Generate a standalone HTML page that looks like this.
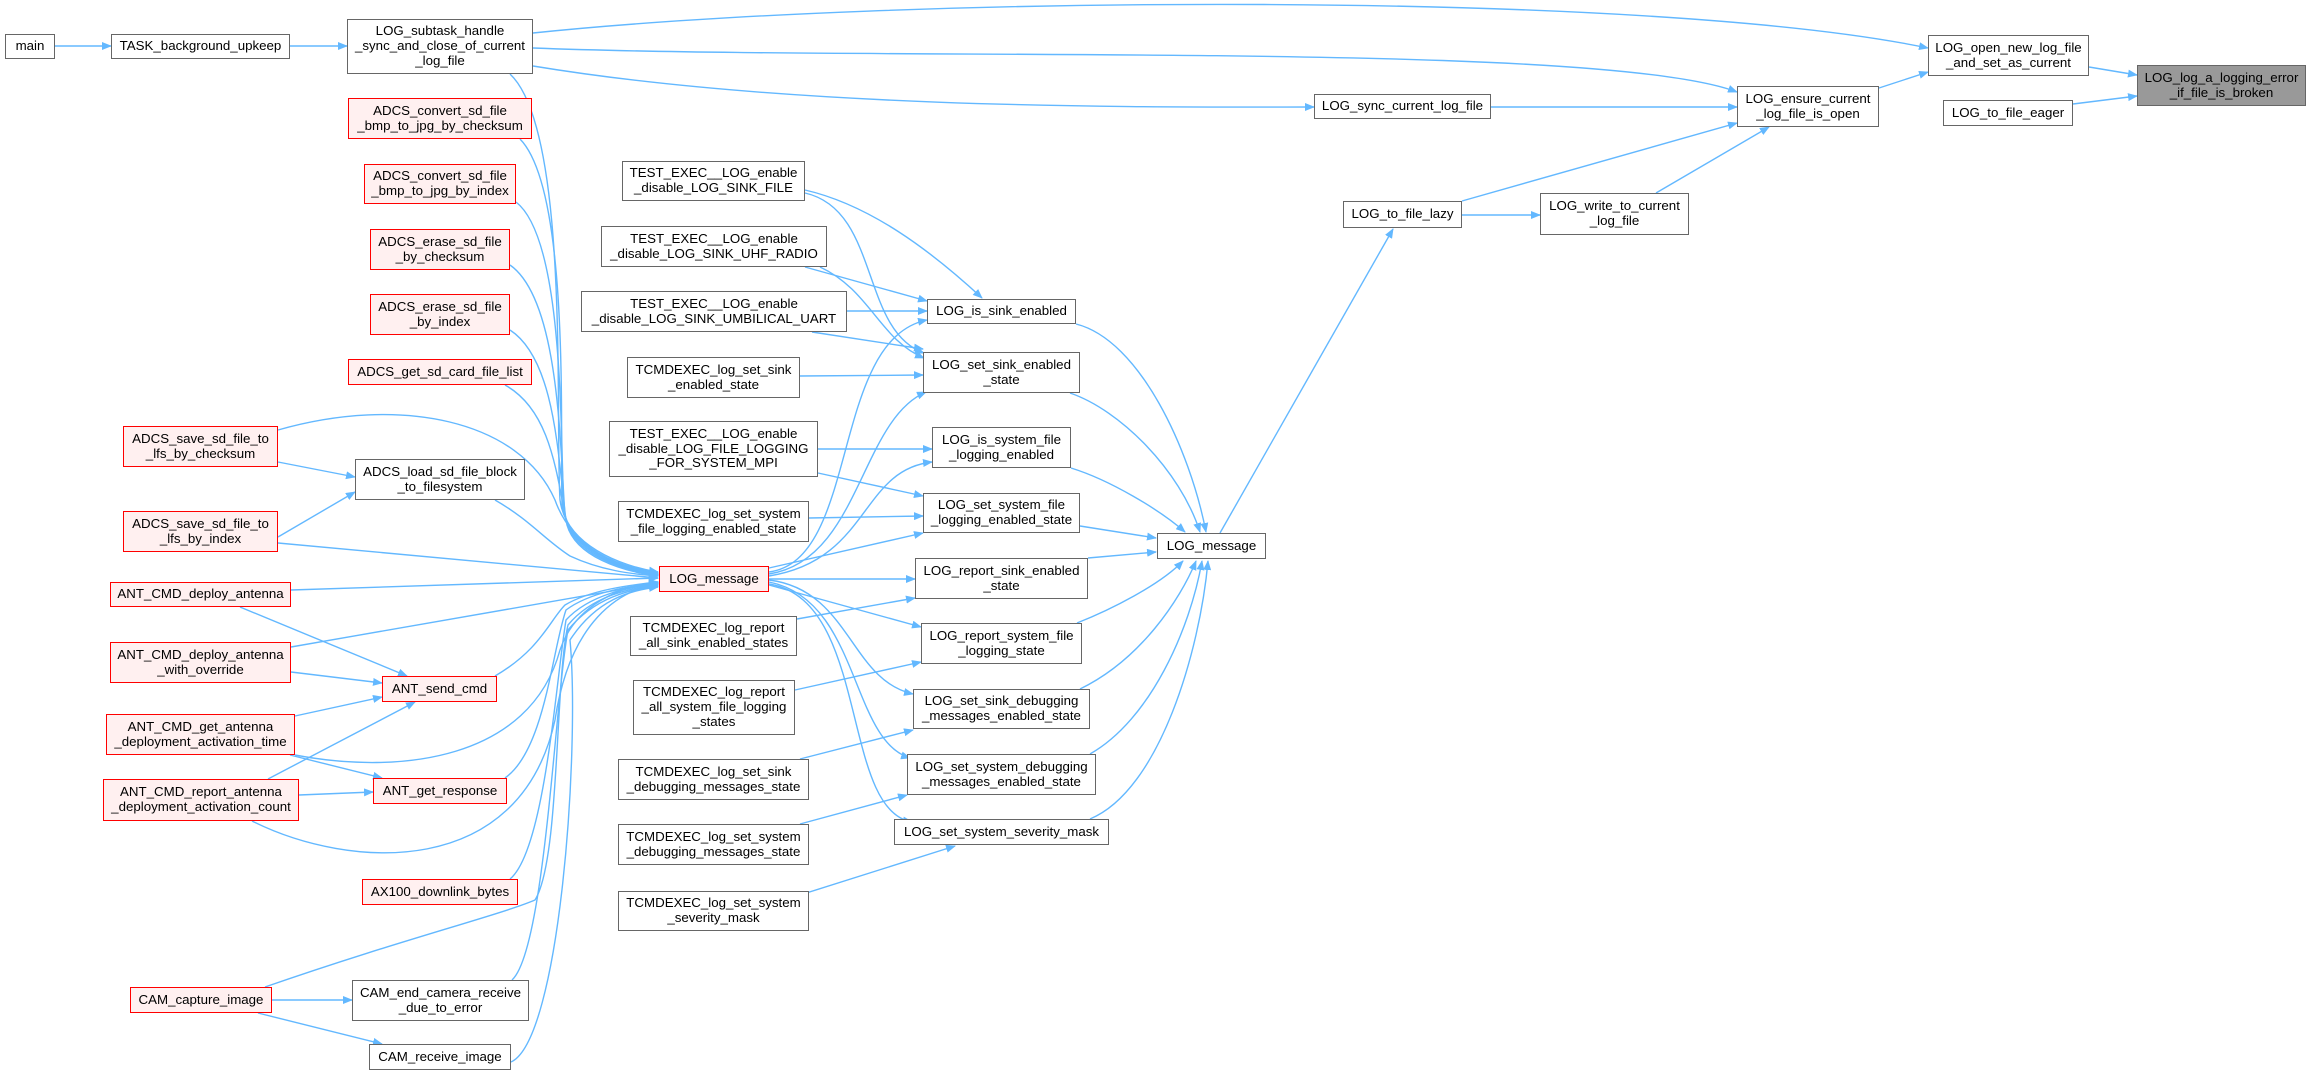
<!DOCTYPE html>
<html><head><meta charset="utf-8">
<style>
html,body{margin:0;padding:0;background:#fff;}
body{width:2311px;height:1076px;position:relative;overflow:hidden;font-family:"Liberation Sans",Arial,sans-serif;}
.n{position:absolute;box-sizing:border-box;border:1.5px solid #666;background:#fff;display:flex;align-items:center;justify-content:center;text-align:center;font-size:13.3px;line-height:14.7px;color:#000;white-space:nowrap;}
.r{border-color:#ff0000;background:#fff0f0;}
.g{background:#999;border-color:#666;}
svg{position:absolute;left:0;top:0;}
</style></head><body>
<svg width="2311" height="1076" viewBox="0 0 2311 1076">
<defs><marker id="a" markerWidth="10" markerHeight="8" refX="9" refY="4" orient="auto" markerUnits="userSpaceOnUse"><path d="M0,0 L10,4 L0,8 z" fill="#63b8ff"/></marker></defs>
<g fill="none" stroke="#63b8ff" stroke-width="1.4" marker-end="url(#a)">
<path d="M55,46 L111,46"/>
<path d="M290,46 L347,46"/>
<path d="M533,33 C900,-5 1650,-10 1928,48"/>
<path d="M533,48 C900,62 1600,40 1737,92"/>
<path d="M533,66 C800,110 1150,107 1314,107"/>
<path d="M1491,107 L1737,107"/>
<path d="M1462,201 L1737,123"/>
<path d="M1462,215 L1540,215"/>
<path d="M1656,193 L1769,127"/>
<path d="M1879,88 L1928,72"/>
<path d="M2089,67 L2137,75"/>
<path d="M2073,104 L2137,96"/>
<path d="M1220,533 L1393,229"/>
<!-- left col to middle -->
<path d="M805,190 C870,205 930,250 982,298"/>
<path d="M805,193 C880,210 860,330 924,353"/>
<path d="M805,267 L927,301"/>
<path d="M820,267 C870,290 880,340 924,358"/>
<path d="M847,311 L927,311"/>
<path d="M812,332 L923,349"/>
<path d="M800,376 L923,375"/>
<path d="M818,449 L932,449"/>
<path d="M818,473 L923,496"/>
<path d="M809,518 L923,516"/>
<path d="M797,619 L915,598"/>
<path d="M795,690 L921,662"/>
<path d="M800,759 L913,730"/>
<path d="M800,824 L907,795"/>
<path d="M800,895 L955,846"/>
<!-- red LOG_message to middle -->
<path d="M769,572 C860,560 830,340 927,320"/>
<path d="M769,574 C860,560 860,420 926,392"/>
<path d="M769,576 C870,560 860,470 932,462"/>
<path d="M769,568 L923,533"/>
<path d="M769,579 L915,579"/>
<path d="M769,585 L921,627"/>
<path d="M769,580 C850,590 850,680 913,694"/>
<path d="M769,582 C860,600 850,740 910,758"/>
<path d="M769,584 C870,600 840,810 912,822"/>
<!-- middle to LOG_message white -->
<path d="M1076,324 C1140,340 1190,450 1206,532"/>
<path d="M1070,393 C1120,410 1180,470 1200,532"/>
<path d="M1071,468 C1110,480 1160,510 1185,532"/>
<path d="M1080,526 L1156,538"/>
<path d="M1088,558 L1156,552"/>
<path d="M1077,623 C1110,610 1160,585 1183,561"/>
<path d="M1080,689 C1140,660 1180,600 1196,561"/>
<path d="M1090,754 C1150,720 1190,630 1202,561"/>
<path d="M1090,819 C1160,790 1200,650 1208,561"/>
<!-- into red LOG_message -->
<path d="M510,74 C570,130 555,420 560,500 C566,545 620,566 658,572"/>
<path d="M520,139 C570,190 560,430 562,505 C568,548 620,567 658,573"/>
<path d="M516,202 C565,240 560,440 564,510 C570,550 620,568 658,574"/>
<path d="M510,265 C560,300 560,450 565,515 C572,552 620,569 658,575"/>
<path d="M510,330 C556,360 558,460 566,520 C574,554 620,570 658,575"/>
<path d="M505,385 C550,410 556,470 567,525 C576,556 620,571 658,576"/>
<path d="M278,430 C400,395 520,420 555,500 C572,548 620,570 658,574"/>
<path d="M495,500 C530,520 545,540 570,556 C600,570 630,574 658,576"/>
<path d="M278,543 L658,578"/>
<path d="M278,462 L355,477"/>
<path d="M278,537 L355,492"/>
<path d="M291,590 L658,578"/>
<path d="M240,607 L407,676"/>
<path d="M291,647 L658,583"/>
<path d="M291,672 L382,683"/>
<path d="M295,716 L382,697"/>
<path d="M295,755 C400,775 530,760 560,650 C575,605 620,586 658,582"/>
<path d="M290,755 L382,778"/>
<path d="M268,779 L415,702"/>
<path d="M299,795 L373,792"/>
<path d="M252,821 C350,870 520,880 555,720 C570,620 620,590 658,584"/>
<path d="M495,676 C540,650 550,620 565,605 C590,590 630,585 658,582"/>
<path d="M505,778 C545,750 552,650 566,610 C590,592 630,586 658,583"/>
<path d="M510,879 C545,850 556,680 566,620 C590,594 630,587 658,584"/>
<path d="M265,987 C400,940 500,915 535,900 C560,860 555,680 568,625 C592,596 630,588 658,585"/>
<path d="M272,1000 L352,1000"/>
<path d="M258,1013 L382,1044"/>
<path d="M512,980 C545,950 555,700 568,630 C594,598 630,589 658,586"/>
<path d="M511,1062 C560,1040 580,750 570,640 C596,600 630,590 658,587"/>
</g>
</svg>

<div class="n" style="left:5px;top:34px;width:50px;height:25px">main</div>
<div class="n" style="left:111px;top:34px;width:179px;height:25px">TASK_background_upkeep</div>
<div class="n" style="left:347px;top:19px;width:186px;height:55px">LOG_subtask_handle<br>_sync_and_close_of_current<br>_log_file</div>
<div class="n r" style="left:348px;top:98px;width:184px;height:41px">ADCS_convert_sd_file<br>_bmp_to_jpg_by_checksum</div>
<div class="n r" style="left:364px;top:164px;width:152px;height:40px">ADCS_convert_sd_file<br>_bmp_to_jpg_by_index</div>
<div class="n r" style="left:370px;top:229px;width:140px;height:41px">ADCS_erase_sd_file<br>_by_checksum</div>
<div class="n r" style="left:370px;top:294px;width:140px;height:41px">ADCS_erase_sd_file<br>_by_index</div>
<div class="n r" style="left:348px;top:359px;width:184px;height:26px">ADCS_get_sd_card_file_list</div>
<div class="n r" style="left:123px;top:426px;width:155px;height:41px">ADCS_save_sd_file_to<br>_lfs_by_checksum</div>
<div class="n" style="left:355px;top:459px;width:170px;height:41px">ADCS_load_sd_file_block<br>_to_filesystem</div>
<div class="n r" style="left:123px;top:511px;width:155px;height:41px">ADCS_save_sd_file_to<br>_lfs_by_index</div>
<div class="n r" style="left:110px;top:582px;width:181px;height:25px">ANT_CMD_deploy_antenna</div>
<div class="n r" style="left:110px;top:642px;width:181px;height:41px">ANT_CMD_deploy_antenna<br>_with_override</div>
<div class="n r" style="left:106px;top:714px;width:189px;height:41px">ANT_CMD_get_antenna<br>_deployment_activation_time</div>
<div class="n r" style="left:103px;top:779px;width:196px;height:42px">ANT_CMD_report_antenna<br>_deployment_activation_count</div>
<div class="n r" style="left:382px;top:676px;width:115px;height:26px">ANT_send_cmd</div>
<div class="n r" style="left:373px;top:778px;width:134px;height:26px">ANT_get_response</div>
<div class="n r" style="left:362px;top:879px;width:156px;height:26px">AX100_downlink_bytes</div>
<div class="n r" style="left:130px;top:987px;width:142px;height:26px">CAM_capture_image</div>
<div class="n" style="left:352px;top:980px;width:177px;height:41px">CAM_end_camera_receive<br>_due_to_error</div>
<div class="n" style="left:369px;top:1044px;width:142px;height:26px">CAM_receive_image</div>

<div class="n" style="left:622px;top:161px;width:183px;height:40px">TEST_EXEC__LOG_enable<br>_disable_LOG_SINK_FILE</div>
<div class="n" style="left:601px;top:226px;width:226px;height:41px">TEST_EXEC__LOG_enable<br>_disable_LOG_SINK_UHF_RADIO</div>
<div class="n" style="left:581px;top:291px;width:266px;height:41px">TEST_EXEC__LOG_enable<br>_disable_LOG_SINK_UMBILICAL_UART</div>
<div class="n" style="left:627px;top:357px;width:173px;height:41px">TCMDEXEC_log_set_sink<br>_enabled_state</div>
<div class="n" style="left:609px;top:421px;width:209px;height:56px">TEST_EXEC__LOG_enable<br>_disable_LOG_FILE_LOGGING<br>_FOR_SYSTEM_MPI</div>
<div class="n" style="left:618px;top:501px;width:191px;height:41px">TCMDEXEC_log_set_system<br>_file_logging_enabled_state</div>
<div class="n r" style="left:659px;top:566px;width:110px;height:26px">LOG_message</div>
<div class="n" style="left:630px;top:616px;width:167px;height:40px">TCMDEXEC_log_report<br>_all_sink_enabled_states</div>
<div class="n" style="left:633px;top:680px;width:162px;height:55px">TCMDEXEC_log_report<br>_all_system_file_logging<br>_states</div>
<div class="n" style="left:618px;top:759px;width:191px;height:41px">TCMDEXEC_log_set_sink<br>_debugging_messages_state</div>
<div class="n" style="left:618px;top:824px;width:191px;height:41px">TCMDEXEC_log_set_system<br>_debugging_messages_state</div>
<div class="n" style="left:618px;top:891px;width:191px;height:40px">TCMDEXEC_log_set_system<br>_severity_mask</div>

<div class="n" style="left:927px;top:299px;width:149px;height:25px">LOG_is_sink_enabled</div>
<div class="n" style="left:923px;top:352px;width:157px;height:41px">LOG_set_sink_enabled<br>_state</div>
<div class="n" style="left:932px;top:427px;width:139px;height:41px">LOG_is_system_file<br>_logging_enabled</div>
<div class="n" style="left:923px;top:493px;width:157px;height:40px">LOG_set_system_file<br>_logging_enabled_state</div>
<div class="n" style="left:915px;top:558px;width:173px;height:41px">LOG_report_sink_enabled<br>_state</div>
<div class="n" style="left:921px;top:623px;width:161px;height:41px">LOG_report_system_file<br>_logging_state</div>
<div class="n" style="left:913px;top:689px;width:177px;height:40px">LOG_set_sink_debugging<br>_messages_enabled_state</div>
<div class="n" style="left:907px;top:754px;width:189px;height:41px">LOG_set_system_debugging<br>_messages_enabled_state</div>
<div class="n" style="left:894px;top:819px;width:215px;height:26px">LOG_set_system_severity_mask</div>
<div class="n" style="left:1157px;top:533px;width:109px;height:26px">LOG_message</div>

<div class="n" style="left:1314px;top:94px;width:177px;height:25px">LOG_sync_current_log_file</div>
<div class="n" style="left:1343px;top:201px;width:119px;height:27px">LOG_to_file_lazy</div>
<div class="n" style="left:1540px;top:193px;width:149px;height:42px">LOG_write_to_current<br>_log_file</div>
<div class="n" style="left:1737px;top:86px;width:142px;height:41px">LOG_ensure_current<br>_log_file_is_open</div>
<div class="n" style="left:1928px;top:35px;width:161px;height:41px">LOG_open_new_log_file<br>_and_set_as_current</div>
<div class="n" style="left:1943px;top:100px;width:130px;height:26px">LOG_to_file_eager</div>
<div class="n g" style="left:2137px;top:65px;width:169px;height:41px">LOG_log_a_logging_error<br>_if_file_is_broken</div>
</body></html>
